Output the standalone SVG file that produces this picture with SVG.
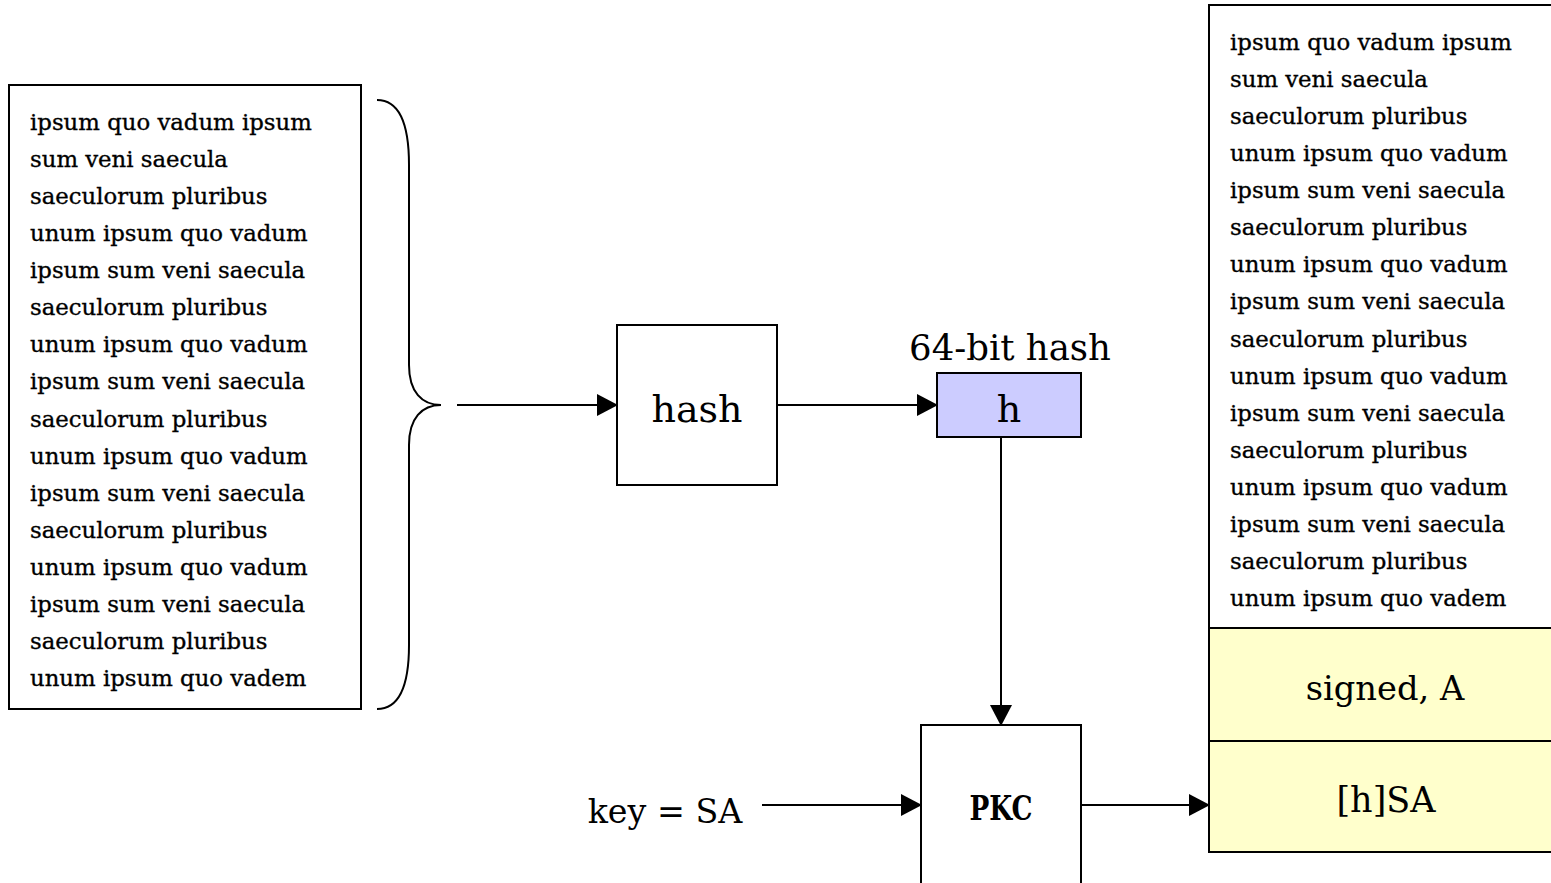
<svg xmlns="http://www.w3.org/2000/svg" width="1551" height="883" viewBox="0 0 1551 883">
  <style>
    .box { fill: #ffffff; stroke: #000000; stroke-width: 2; }
    .blue { fill: #ccccff; stroke: #000000; stroke-width: 2; }
    .yellow { fill: #ffffcc; stroke: #000000; stroke-width: 2; }
    .body { font-family: "DejaVu Serif", serif; font-size: 22.8px; fill: #000000; stroke: #000000; stroke-width: 0.35; }
    .label { font-family: "DejaVu Serif", serif; font-size: 35px; fill: #000000; text-anchor: middle; }
    .big { font-family: "DejaVu Serif", serif; font-size: 38px; fill: #000000; text-anchor: middle; }
    .pkc { font-family: "DejaVu Serif", serif; font-size: 33px; font-weight: bold; fill: #000000; text-anchor: middle; }
    .wire { fill: none; stroke: #000000; stroke-width: 2; }
  </style>
  <defs>
    <marker id="arrow" markerUnits="userSpaceOnUse" markerWidth="21" markerHeight="22" refX="20" refY="11" orient="auto">
      <path d="M0,0 L21,11 L0,22 Z" fill="#000000"/>
    </marker>
  </defs>

  <!-- message document -->
  <g id="message">
    <rect class="box" x="9" y="85" width="352" height="624"/>
    <text class="body" x="30" y="130">
      <tspan x="30" y="130">ipsum quo vadum ipsum</tspan>
      <tspan x="30" dy="37.07">sum veni saecula</tspan>
      <tspan x="30" dy="37.07">saeculorum pluribus</tspan>
      <tspan x="30" dy="37.07">unum ipsum quo vadum</tspan>
      <tspan x="30" dy="37.07">ipsum sum veni saecula</tspan>
      <tspan x="30" dy="37.07">saeculorum pluribus</tspan>
      <tspan x="30" dy="37.07">unum ipsum quo vadum</tspan>
      <tspan x="30" dy="37.07">ipsum sum veni saecula</tspan>
      <tspan x="30" dy="37.07">saeculorum pluribus</tspan>
      <tspan x="30" dy="37.07">unum ipsum quo vadum</tspan>
      <tspan x="30" dy="37.07">ipsum sum veni saecula</tspan>
      <tspan x="30" dy="37.07">saeculorum pluribus</tspan>
      <tspan x="30" dy="37.07">unum ipsum quo vadum</tspan>
      <tspan x="30" dy="37.07">ipsum sum veni saecula</tspan>
      <tspan x="30" dy="37.07">saeculorum pluribus</tspan>
      <tspan x="30" dy="37.07">unum ipsum quo vadem</tspan>
    </text>
  </g>

  <!-- curly brace grouping the message -->
  <g id="brace">
    <path class="wire" d="M377,100 C400,100 409,125 409,165 L409,365 C409,392 422,405 441,405 C422,405 409,418 409,445 L409,645 C409,685 400,709 377,709"/>
  </g>

  <!-- hash function -->
  <g id="hash">
    <rect class="box" x="617" y="325" width="160" height="160"/>
    <text class="big" x="697" y="422">hash</text>
  </g>

  <!-- hash value -->
  <g id="h">
    <text class="label" x="1010" y="360" style="font-size:35.5px">64-bit hash</text>
    <rect class="blue" x="937" y="373" width="144" height="64"/>
    <text class="big" x="1009" y="422">h</text>
  </g>

  <!-- public key cipher -->
  <g id="pkc">
    <rect class="box" x="921" y="725" width="160" height="170"/>
    <text class="pkc" x="1001" y="820" textLength="63" lengthAdjust="spacingAndGlyphs">PKC</text>
  </g>

  <!-- key input -->
  <g id="key">
    <text class="label" x="665" y="823" style="font-size:33.3px">key = SA</text>
  </g>

  <!-- signed document -->
  <g id="signed">
    <rect class="box" x="1209" y="5" width="352" height="623"/>
    <text class="body" x="1230" y="50">
      <tspan x="1230" y="50">ipsum quo vadum ipsum</tspan>
      <tspan x="1230" dy="37.07">sum veni saecula</tspan>
      <tspan x="1230" dy="37.07">saeculorum pluribus</tspan>
      <tspan x="1230" dy="37.07">unum ipsum quo vadum</tspan>
      <tspan x="1230" dy="37.07">ipsum sum veni saecula</tspan>
      <tspan x="1230" dy="37.07">saeculorum pluribus</tspan>
      <tspan x="1230" dy="37.07">unum ipsum quo vadum</tspan>
      <tspan x="1230" dy="37.07">ipsum sum veni saecula</tspan>
      <tspan x="1230" dy="37.07">saeculorum pluribus</tspan>
      <tspan x="1230" dy="37.07">unum ipsum quo vadum</tspan>
      <tspan x="1230" dy="37.07">ipsum sum veni saecula</tspan>
      <tspan x="1230" dy="37.07">saeculorum pluribus</tspan>
      <tspan x="1230" dy="37.07">unum ipsum quo vadum</tspan>
      <tspan x="1230" dy="37.07">ipsum sum veni saecula</tspan>
      <tspan x="1230" dy="37.07">saeculorum pluribus</tspan>
      <tspan x="1230" dy="37.07">unum ipsum quo vadem</tspan>
    </text>
    <rect class="yellow" x="1209" y="628" width="352" height="113"/>
    <text class="label" x="1385" y="700" style="font-size:33.7px">signed, A</text>
    <rect class="yellow" x="1209" y="741" width="352" height="111"/>
    <text class="label" x="1386" y="812">[h]SA</text>
  </g>

  <!-- connectors -->
  <g id="connectors">
    <line class="wire" x1="457" y1="405" x2="617" y2="405" marker-end="url(#arrow)"/>
    <line class="wire" x1="778" y1="405" x2="937" y2="405" marker-end="url(#arrow)"/>
    <line class="wire" x1="1001" y1="438" x2="1001" y2="725" marker-end="url(#arrow)"/>
    <line class="wire" x1="762" y1="805" x2="921" y2="805" marker-end="url(#arrow)"/>
    <line class="wire" x1="1082" y1="805" x2="1209" y2="805" marker-end="url(#arrow)"/>
  </g>
</svg>
